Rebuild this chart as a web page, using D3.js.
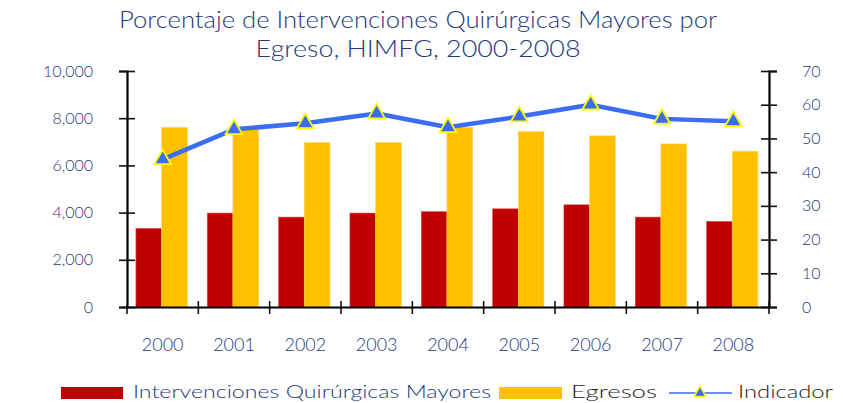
<!DOCTYPE html>
<html><head><meta charset="utf-8">
<script src="https://cdn.jsdelivr.net/npm/d3@7"></script>
<style>body{margin:0;background:#fff;}svg{display:block;}</style>
</head><body>
<svg id="c" width="843" height="403"></svg>
<script>
const years = ["2000","2001","2002","2003","2004","2005","2006","2007","2008"];
const intervenciones = [3330, 3980, 3810, 3980, 4040, 4160, 4330, 3810, 3630];
const egresos = [7610, 7530, 6960, 6960, 7610, 7430, 7250, 6910, 6600];
const indicador = [43.8, 52.7, 54.5, 57.4, 53.3, 56.5, 60.0, 55.8, 55.1];
const leftTicks = [0, 2000, 4000, 6000, 8000, 10000];
const rightTicks = [0, 10, 20, 30, 40, 50, 60, 70];
const titleLines = ["Porcentaje de Intervenciones Quirúrgicas Mayores por", "Egreso, HIMFG, 2000-2008"];
const legendLabels = ["Intervenciones Quirúrgicas Mayores", "Egresos", "Indicador"];

const navy = "#23397a", red = "#c00000", yellow = "#ffc000", blue = "#3a6cf4";
const font = "Lato, 'Open Sans', sans-serif";
const svg = d3.select("#c");
const L = 127, R = 769, T = 71, B = 307;

const x = d3.scaleBand().domain(years).range([L, R]);
const yL = d3.scaleLinear().domain([0, 10000]).range([B, T]);
const yR = d3.scaleLinear().domain([0, 70]).range([B, T]);
const bw = x.bandwidth();
const barW = bw * 0.36, off = bw * 0.125;

// Title
svg.selectAll("text.title").data(titleLines).join("text")
  .attr("x", 418).attr("y", (d, i) => 28 + i * 29)
  .attr("text-anchor", "middle").attr("fill", navy)
  .attr("font-family", font).attr("font-size", 23).attr("font-weight", 300)
  .attr("textLength", (d, i) => i === 0 ? 598 : 325).attr("lengthAdjust", "spacingAndGlyphs")
  .text(d => d);

// Bars
svg.append("g").selectAll("rect").data(years).join("rect")
  .attr("x", d => x(d) + off).attr("width", barW)
  .attr("y", (d, i) => yL(intervenciones[i])).attr("height", (d, i) => B - yL(intervenciones[i]))
  .attr("fill", red).attr("stroke", "#d9534f").attr("stroke-width", 0.6);
svg.append("g").selectAll("rect").data(years).join("rect")
  .attr("x", d => x(d) + off + barW).attr("width", barW)
  .attr("y", (d, i) => yL(egresos[i])).attr("height", (d, i) => B - yL(egresos[i]))
  .attr("fill", yellow).attr("stroke", "#ffd25a").attr("stroke-width", 0.6);

// Axes
const axL = svg.append("g").attr("transform", `translate(${L},0)`)
  .call(d3.axisLeft(yL).tickValues(leftTicks).tickSize(8).tickFormat(d3.format(",")));
const axR = svg.append("g").attr("transform", `translate(${R},0)`)
  .call(d3.axisRight(yR).tickValues(rightTicks).tickSize(8));
const axB = svg.append("g").attr("transform", `translate(0,${B})`)
  .call(d3.axisBottom(x).tickSize(0).tickPadding(44));
[axL, axR, axB].forEach(a => {
  a.select(".domain").attr("stroke", "#000").attr("stroke-width", 2.2);
  a.selectAll(".tick line").attr("stroke", "#111").attr("stroke-width", 1.6);
  a.selectAll("text").attr("fill", navy).attr("font-family", font).attr("font-weight", 300);
});
axL.selectAll(".tick line").attr("x1", -8).attr("x2", 8);
axL.selectAll(".tick text").attr("x", -34).attr("font-size", 16);
axR.selectAll(".tick line").attr("x1", -8).attr("x2", 8);
axR.selectAll(".tick text").attr("x", 33).attr("font-size", 16);
axB.selectAll(".tick text").attr("font-size", 18).attr("dy", "0");
// bottom tick marks at category boundaries
svg.append("g").selectAll("line").data(years.slice(1).concat(["end"])).join("line")
  .attr("x1", (d, i) => L + bw * (i + 1)).attr("x2", (d, i) => L + bw * (i + 1))
  .attr("y1", B - 6).attr("y2", B + 7).attr("stroke", "#111").attr("stroke-width", 1.6);
svg.append("line").attr("x1", L).attr("x2", L).attr("y1", B - 2).attr("y2", B + 7)
  .attr("stroke", "#111").attr("stroke-width", 1.6);

// Line
const line = d3.line().x((d, i) => x(years[i]) + bw / 2).y(d => yR(d));
svg.append("path").datum(indicador).attr("d", line)
  .attr("fill", "none").attr("stroke", blue).attr("stroke-width", 4.5).attr("stroke-linejoin", "round");
const tri = d3.symbol().type(d3.symbolTriangle).size(120);
svg.append("g").selectAll("path").data(indicador).join("path")
  .attr("d", tri)
  .attr("transform", (d, i) => `translate(${x(years[i]) + bw / 2},${yR(d)})`)
  .attr("fill", blue).attr("stroke", "#ffff00").attr("stroke-width", 1.8);

// Legend
const lg = svg.append("g");
lg.append("rect").attr("x", 61).attr("y", 387).attr("width", 62).attr("height", 12).attr("fill", red);
lg.append("text").attr("x", 133).attr("y", 398).attr("fill", navy).attr("font-family", font).attr("font-weight", 300)
  .attr("font-size", 18).attr("textLength", 358).attr("lengthAdjust", "spacingAndGlyphs").text(legendLabels[0]);
lg.append("rect").attr("x", 499).attr("y", 387).attr("width", 63).attr("height", 12).attr("fill", yellow);
lg.append("text").attr("x", 571).attr("y", 398).attr("fill", "#222").attr("font-family", font).attr("font-weight", 300)
  .attr("font-size", 18).attr("textLength", 86).attr("lengthAdjust", "spacingAndGlyphs").text(legendLabels[1]);
lg.append("line").attr("x1", 669).attr("x2", 732).attr("y1", 393).attr("y2", 393)
  .attr("stroke", blue).attr("stroke-width", 1.5);
lg.append("path").attr("d", d3.symbol().type(d3.symbolTriangle).size(60))
  .attr("transform", "translate(700,393)").attr("fill", blue).attr("stroke", "#ffff00").attr("stroke-width", 1.5);
lg.append("text").attr("x", 738).attr("y", 398).attr("fill", "#222").attr("font-family", font).attr("font-weight", 300)
  .attr("font-size", 18).attr("textLength", 95).attr("lengthAdjust", "spacingAndGlyphs").text(legendLabels[2]);
</script>
</body></html>
